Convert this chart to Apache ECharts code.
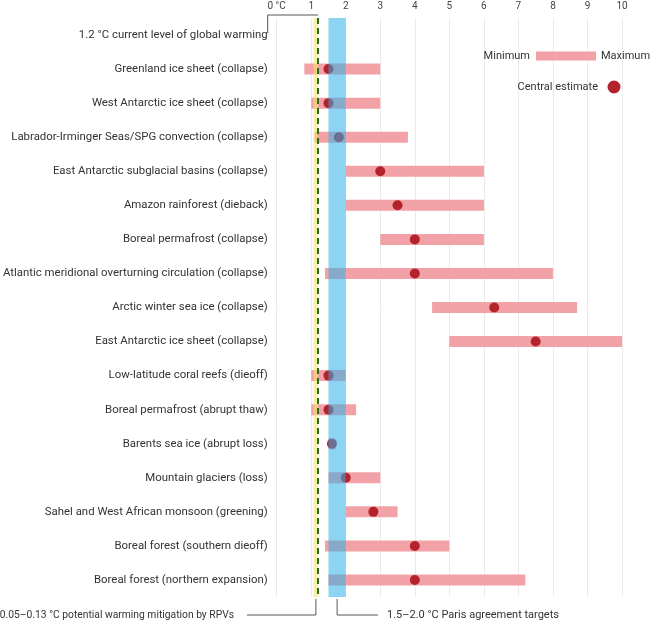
<!DOCTYPE html>
<html>
<head>
<meta charset="utf-8">
<script src="https://cdn.jsdelivr.net/npm/echarts@6/dist/echarts.min.js"></script>
<style>
  html, body { margin: 0; padding: 0; background: #fff; }
  #main { width: 650px; height: 620px; }
</style>
</head>
<body>
<div id="main"></div>
<script>
// rows, top to bottom
var categories = [
    '1.2 °C current level of global warming',
    'Greenland ice sheet (collapse)',
    'West Antarctic ice sheet (collapse)',
    'Labrador-Irminger Seas/SPG convection (collapse)',
    'East Antarctic subglacial basins (collapse)',
    'Amazon rainforest (dieback)',
    'Boreal permafrost (collapse)',
    'Atlantic meridional overturning circulation (collapse)',
    'Arctic winter sea ice (collapse)',
    'East Antarctic ice sheet (collapse)',
    'Low-latitude coral reefs (dieoff)',
    'Boreal permafrost (abrupt thaw)',
    'Barents sea ice (abrupt loss)',
    'Mountain glaciers (loss)',
    'Sahel and West African monsoon (greening)',
    'Boreal forest (southern dieoff)',
    'Boreal forest (northern expansion)'
];
var minVals     = [null, 0.8, 1.0, 1.1, 2.0, 2.0, 3.0, 1.4, 4.5, 5.0, 1.0, 1.0, 1.5, 1.5, 2.0, 1.4, 1.5];
var maxVals     = [null, 3.0, 3.0, 3.8, 6.0, 6.0, 6.0, 8.0, 8.7, 10.0, 2.0, 2.3, 1.7, 3.0, 3.5, 5.0, 7.2];
var centralVals = [null, 1.5, 1.5, 1.8, 3.0, 3.5, 4.0, 4.0, 6.3, 7.5, 1.5, 1.5, 1.6, 2.0, 2.8, 4.0, 4.0];

var currentWarming = 1.2;
var rpvRange = [1.07, 1.2];
var parisRange = [1.5, 2.0];

var FONT = 'Roboto';

var myChart = echarts.init(document.getElementById('main'));

var baseData = minVals.map(function (v) { return v == null ? '-' : v; });
var rangeData = minVals.map(function (v, i) { return v == null ? '-' : +(maxVals[i] - v).toFixed(2); });
var dotData = centralVals.map(function (v, i) { return v == null ? null : [v, categories[i]]; })
    .filter(function (d) { return d; });

var option = {
    animation: false,
    grid: { left: 276, right: 28, top: 18, bottom: 23 },
    xAxis: {
        type: 'value',
        position: 'top',
        min: 0,
        max: 10,
        interval: 1,
        axisLine: { show: false },
        axisTick: { show: false },
        splitLine: { show: true, lineStyle: { color: '#ebebeb', width: 1 } },
        axisLabel: {
            margin: 7,
            color: '#444',
            fontSize: 10,
            fontFamily: FONT,
            formatter: function (v) { return v === 0 ? '0 °C' : v; }
        }
    },
    yAxis: {
        type: 'category',
        inverse: true,
        data: categories,
        axisLine: { show: false },
        axisTick: { show: false },
        splitLine: { show: false },
        axisLabel: { margin: 9, color: '#333', fontSize: 11.4, fontFamily: FONT }
    },
    series: [{
        // invisible offset up to the minimum
        type: 'bar',
        stack: 'range',
        barWidth: 11,
        itemStyle: { color: 'transparent' },
        silent: true,
        data: baseData
    }, {
        type: 'bar',
        stack: 'range',
        barWidth: 11,
        itemStyle: { color: '#f2a1a6' },
        data: rangeData
    }, {
        type: 'scatter',
        symbol: 'circle',
        symbolSize: 10,
        itemStyle: { color: '#b3232b', opacity: 1 },
        data: dotData,
        markArea: {
            z: 6,
            silent: true,
            label: { show: false },
            data: [
                [{ xAxis: rpvRange[0], itemStyle: { color: 'rgba(245,228,110,0.6)' } }, { xAxis: rpvRange[1] }],
                [{ xAxis: parisRange[0], itemStyle: { color: 'rgba(48,177,231,0.55)' } }, { xAxis: parisRange[1] }]
            ]
        },
        markLine: {
            z: 7,
            silent: true,
            symbol: 'none',
            label: { show: false },
            lineStyle: { color: '#2c6a1c', type: [6, 4], width: 2 },
            data: [{ xAxis: currentWarming }]
        }
    }]
};

if (option && typeof option === "object") {
    myChart.setOption(option);
}

// annotation brackets, placed from the axis scale
var px = function (v) { return myChart.convertToPixel({ xAxisIndex: 0 }, v); };
var x0 = px(0), xNow = px(currentWarming);
var xRpv = px((rpvRange[0] + rpvRange[1]) / 2);
var xParis = px((parisRange[0] + parisRange[1]) / 2);
var lineStyle = { stroke: '#555', lineWidth: 1, fill: null };
var textStyle = { fill: '#333', fontSize: 11, fontFamily: FONT };

myChart.setOption({
    graphic: [
        { type: 'polyline', shape: { points: [[x0 - 9, 33], [x0 - 9, 15], [xNow, 15]] }, style: lineStyle, z: 10 },
        { type: 'polyline', shape: { points: [[247, 615], [xRpv, 615], [xRpv, 599]] }, style: lineStyle, z: 10 },
        { type: 'polyline', shape: { points: [[xParis, 599], [xParis, 615], [378, 615]] }, style: lineStyle, z: 10 },
        { type: 'text', x: 234, y: 615, style: Object.assign({ text: '0.05–0.13 °C potential warming mitigation by RPVs', align: 'right', verticalAlign: 'middle' }, textStyle, { fontSize: 10.3 }), z: 10 },
        { type: 'text', x: 387, y: 615, style: Object.assign({ text: '1.5–2.0 °C Paris agreement targets', align: 'left', verticalAlign: 'middle' }, textStyle), z: 10 },
        // legend
        { type: 'text', x: 530, y: 56, style: Object.assign({ text: 'Minimum', align: 'right', verticalAlign: 'middle' }, textStyle), z: 10 },
        { type: 'rect', shape: { x: 536, y: 51.5, width: 60, height: 9 }, style: { fill: '#f2a1a6' }, z: 10 },
        { type: 'text', x: 601, y: 56, style: Object.assign({ text: 'Maximum', align: 'left', verticalAlign: 'middle' }, textStyle), z: 10 },
        { type: 'text', x: 598, y: 87, style: Object.assign({ text: 'Central estimate', align: 'right', verticalAlign: 'middle' }, textStyle), z: 10 },
        { type: 'circle', shape: { cx: 614, cy: 87, r: 6.5 }, style: { fill: '#b3232b' }, z: 10 }
    ]
});
</script>
</body>
</html>
